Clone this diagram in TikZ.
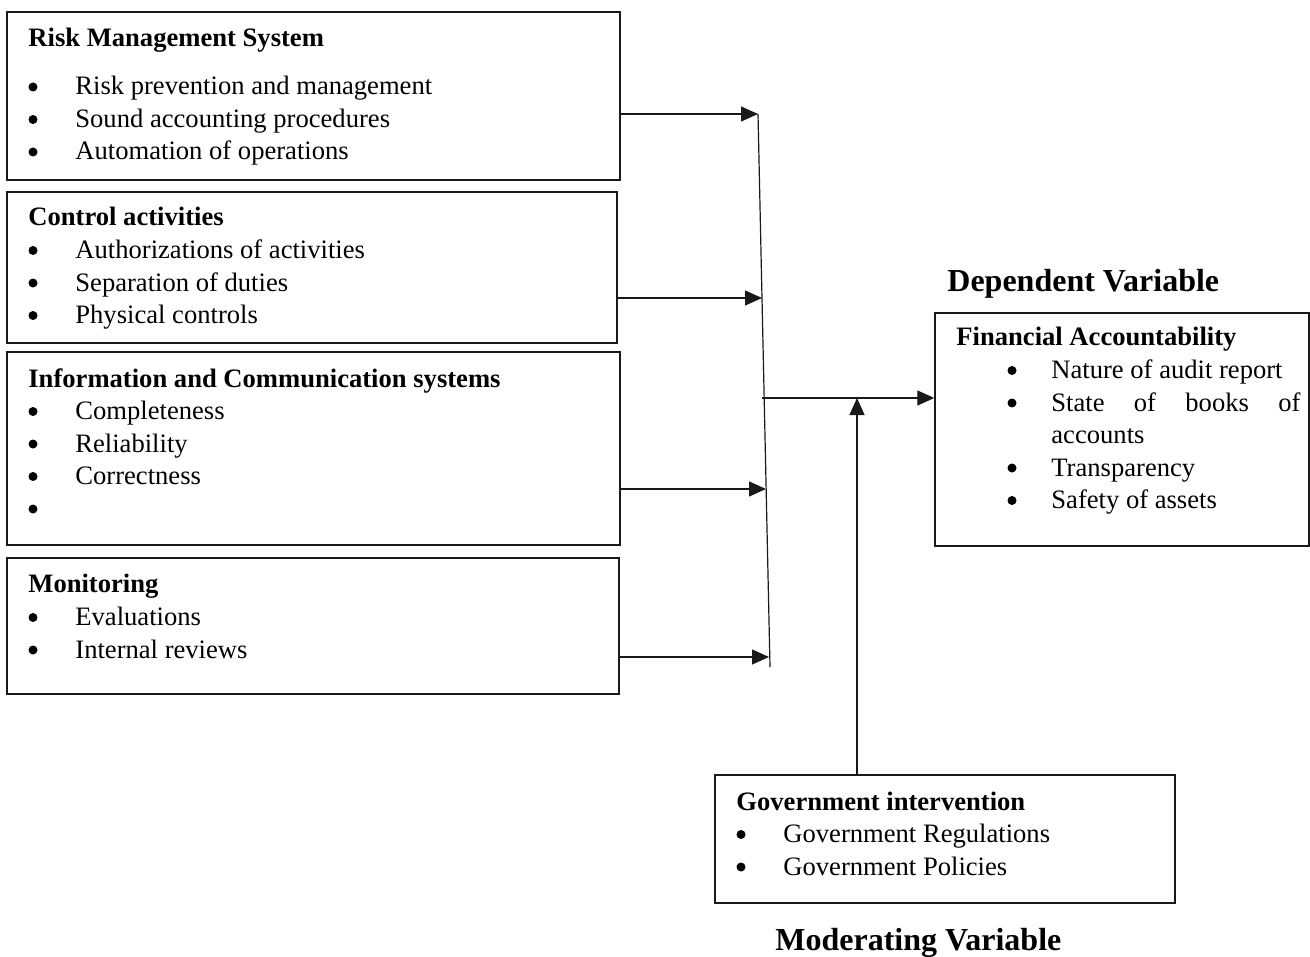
\documentclass[tikz,border=0pt]{standalone}
\usepackage{fontspec}
\setmainfont{Liberation Serif}
\usetikzlibrary{arrows.meta, fit, calc}
\definecolor{linegray}{RGB}{25, 25, 25}
\tikzset{
    every node/.style={font=\fontsize{13.3}{16}\selectfont},
    box/.style={draw=linegray, line width=0.7pt, inner sep=0pt},
    boxtitle/.style={anchor=base west, inner sep=0pt,
        font=\fontsize{13.3}{16}\selectfont\bfseries},
    bulletitem/.style={anchor=base west, inner sep=0pt},
    bulletdot/.style={circle, fill=black, inner sep=0pt,
        minimum size=4.5pt, yshift=4pt},
    varname/.style={anchor=base west, inner sep=0pt,
        font=\fontsize{16}{19}\selectfont\bfseries},
    arr/.style={-{Triangle[length=8.5pt, width=7.5pt]}, line width=0.6pt,
        draw=linegray},
}

\begin{document}
\begin{tikzpicture}[x=0.5pt, y=-0.5pt]
    \useasboundingbox (0, 0) rectangle (1310, 957);

    % independent variables
    \node[box, fit={(7, 12) (620, 180)}] (risk) {};
    \node[boxtitle] (riskt) at (28, 47) {Risk Management System};
    \foreach \t [count=\i] in {Risk prevention and management,
        Sound accounting procedures, Automation of operations} {
        \node[bulletdot] (riskb\i) at (33, 62.5+32.5*\i) {};
        \node[bulletitem] (riski\i) at (75, 62.5+32.5*\i) {\t};
    }

    \node[box, fit={(7, 192) (617, 343)}] (ctrl) {};
    \node[boxtitle] (ctrlt) at (28, 226) {Control activities};
    \foreach \t [count=\i] in {Authorizations of activities,
        Separation of duties, Physical controls} {
        \node[bulletdot] (ctrlb\i) at (33, 226+32.5*\i) {};
        \node[bulletitem] (ctrli\i) at (75, 226+32.5*\i) {\t};
    }

    \node[box, fit={(7, 352) (620, 545)}] (info) {};
    \node[boxtitle] (infot) at (28, 387)
        {Information and Communication systems};
    \foreach \t [count=\i] in {Completeness, Reliability, Correctness} {
        \node[bulletdot] (infob\i) at (33, 387+32.5*\i) {};
        \node[bulletitem] (infoi\i) at (75, 387+32.5*\i) {\t};
    }
    \node[bulletdot] (infob4) at (33, 517) {};

    \node[box, fit={(7, 558) (619, 694)}] (mon) {};
    \node[boxtitle] (mont) at (28, 592) {Monitoring};
    \foreach \t [count=\i] in {Evaluations, Internal reviews} {
        \node[bulletdot] (monb\i) at (33, 593+32.5*\i) {};
        \node[bulletitem] (moni\i) at (75, 593+32.5*\i) {\t};
    }

    % dependent variable
    \node[varname] (dep) at (947, 291) {Dependent Variable};
    \node[box, fit={(935, 313) (1309, 546)}] (fin) {};
    \node[boxtitle] (fint) at (956, 345) {Financial Accountability};
    \node[bulletdot] (finb1) at (1012, 378.5) {};
    \node[bulletitem] (fini1) at (1051, 378.5) {Nature of audit report};
    \node[bulletdot] (finb2) at (1012, 411) {};
    \node[bulletitem] (fini2) at (1051, 411)
        {\makebox[124.5pt][s]{State of books of}};
    \node[bulletitem] (fini2b) at (1051, 443.5) {accounts};
    \node[bulletdot] (finb3) at (1012, 476) {};
    \node[bulletitem] (fini3) at (1051, 476) {Transparency};
    \node[bulletdot] (finb4) at (1012, 508.5) {};
    \node[bulletitem] (fini4) at (1051, 508.5) {Safety of assets};

    % moderating variable
    \node[box, fit={(715, 775) (1175, 903)}] (gov) {};
    \node[boxtitle] (govt) at (736, 810) {Government intervention};
    \foreach \t [count=\i] in {Government Regulations, Government Policies} {
        \node[bulletdot] (govb\i) at (741, 810+32.5*\i) {};
        \node[bulletitem] (govi\i) at (783, 810+32.5*\i) {\t};
    }
    \node[varname] (mod) at (775, 950) {Moderating Variable};

    % connectors
    \coordinate (jtop) at (758, 114);
    \coordinate (jbot) at (770, 667);
    \coordinate (j2) at (762, 298);
    \coordinate (j3) at (766, 489);
    \coordinate (j4) at (769, 657);
    \coordinate (jmid) at (762, 398);
    \coordinate (jup) at (857, 398);
    \draw[line width=0.6pt, linegray] (jtop) -- (jbot);
    \draw[arr] (risk.east |- jtop) -- (jtop);
    \draw[arr] (ctrl.east |- j2) -- (j2);
    \draw[arr] (info.east |- j3) -- (j3);
    \draw[arr] (mon.east |- j4) -- (j4);
    \draw[arr] (jmid) -- (fin.west |- jmid);
    \draw[arr] (gov.north -| jup) -- (jup);
\end{tikzpicture}
\end{document}
